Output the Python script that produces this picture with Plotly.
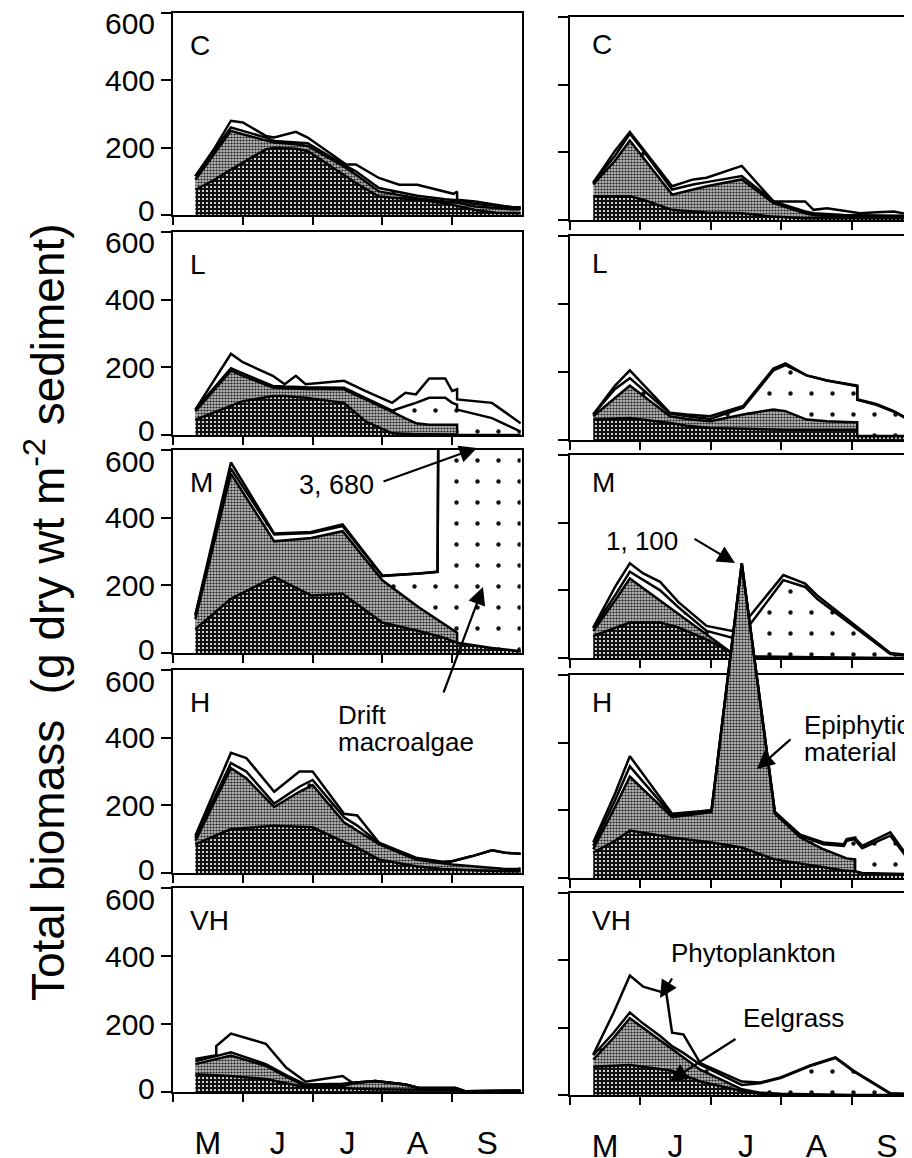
import plotly.graph_objects as go

# page body keeps its default 8 px margin, so the figure is sized to end at the window edge
OFF = 8
W, H = 912 - OFF, 1158 - OFF

# ---------------- data (x = months after 1 May; values = cumulative layer tops, g dry wt m-2)
# layer order bottom->top: eelgrass, +epiphytic material, +drift macroalgae, +phytoplankton (total)
month_labels = ['M', 'J', 'J', 'A', 'S']
month_centres = [0.5, 1.5, 2.5, 3.5, 4.5]
month_bounds = [0, 1, 2, 3, 4]
y_ticks = [0, 200, 400, 600]
panel_labels = ['C', 'L', 'M', 'H', 'VH']

# left column
Ca_x = [0.32, 0.60, 0.83, 1.00, 1.33, 1.45, 1.76, 1.93, 2.48, 2.62, 2.95, 3.24, 3.50, 3.90, 4.02, 4.07, 4.07, 4.33, 4.62, 4.86, 4.98]
Ca_eel = [75, 105, 135, 155, 195, 200, 197, 190, 115, 95, 55, 50, 45, 35, 30, 28, 28, 15, 7, 5, 5]
Ca_epi = [105, 185, 250, 240, 220, 215, 210, 205, 140, 120, 70, 60, 50, 40, 38, 37, 37, 25, 20, 17, 17]
Ca_mac = [115, 195, 260, 250, 230, 220, 215, 213, 145, 130, 80, 67, 57, 47, 45, 44, 44, 33, 27, 23, 23]
Ca_tot = [115, 200, 280, 275, 235, 230, 247, 230, 150, 150, 110, 90, 90, 70, 63, 70, 45, 40, 30, 23, 23]

La_x = [0.32, 0.83, 1.00, 1.43, 1.60, 1.76, 1.90, 2.45, 2.76, 3.14, 3.33, 3.48, 3.67, 3.90, 4.00, 4.07, 4.07, 4.57, 4.98]
La_eel = [45, 85, 100, 115, 115, 112, 110, 95, 40, 5, 3, 2, 2, 2, 2, 2, 0, 0, 0]
La_epi = [70, 190, 175, 140, 138, 137, 136, 135, 106, 68, 49, 35, 30, 30, 30, 30, 0, 0, 0]
La_mac = [75, 197, 182, 145, 143, 142, 141, 140, 110, 72, 85, 95, 110, 110, 95, 90, 75, 50, 10]
La_tot = [75, 240, 215, 175, 150, 175, 150, 160, 130, 95, 125, 120, 167, 167, 130, 135, 105, 95, 35]

Ma_x = [0.32, 0.83, 1.45, 1.98, 2.43, 3.00, 3.52, 3.79, 3.88, 4.07, 4.07, 4.57, 4.98]
Ma_eel = [70, 160, 225, 170, 175, 90, 65, 50, 45, 30, 30, 15, 5]
Ma_epi = [100, 530, 330, 340, 360, 215, 135, 99, 86, 60, 30, 15, 5]
Ma_mac = [110, 545, 350, 355, 375, 228, 235, 240, 3680, 3680, 3680, 3680, 3680]
Ma_tot = [113, 563, 353, 358, 380, 228, 235, 240, 3680, 3680, 3680, 3680, 3680]

Ha_x = [0.32, 0.83, 1.05, 1.45, 1.81, 2.00, 2.45, 2.64, 2.95, 3.48, 3.86, 4.00, 4.29, 4.57, 4.76, 4.98]
Ha_eel = [85, 130, 133, 140, 137, 135, 92, 75, 40, 20, 12, 10, 8, 6, 5, 5]
Ha_epi = [95, 310, 280, 195, 240, 260, 150, 125, 85, 40, 30, 25, 20, 15, 12, 12]
Ha_mac = [103, 325, 300, 205, 255, 275, 165, 140, 88, 42, 32, 35, 50, 67, 60, 57]
Ha_tot = [110, 355, 340, 240, 300, 300, 175, 170, 90, 45, 33, 35, 50, 67, 60, 57]

VHa_x = [0.32, 0.62, 0.62, 0.83, 1.33, 1.62, 1.90, 2.43, 2.57, 2.90, 3.33, 3.52, 4.05, 4.19, 4.98]
VHa_eel = [52, 50, 50, 47, 38, 25, 14, 12, 10, 8, 7, 6, 6, 2, 3]
VHa_epi = [82, 97, 97, 107, 77, 45, 17, 17, 25, 32, 22, 12, 12, 2, 4]
VHa_mac = [90, 105, 105, 117, 82, 50, 22, 24, 27, 32, 22, 12, 12, 2, 4]
VHa_tot = [97, 108, 135, 172, 142, 72, 30, 47, 27, 32, 22, 12, 12, 2, 4]

# right column
Cb_x = [0.33, 0.64, 0.85, 1.04, 1.45, 1.75, 1.94, 2.44, 2.89, 3.34, 3.46, 3.65, 3.89, 4.12, 4.36, 4.60, 4.86, 5.00]
Cb_eel = [70, 70, 70, 60, 30, 25, 22, 20, 10, 5, 5, 5, 5, 5, 5, 5, 5, 5]
Cb_epi = [105, 175, 235, 185, 75, 90, 100, 120, 50, 20, 15, 12, 10, 10, 10, 10, 10, 10]
Cb_mac = [110, 190, 255, 205, 90, 105, 112, 130, 55, 25, 20, 17, 15, 14, 13, 12, 12, 12]
Cb_tot = [110, 205, 260, 210, 100, 120, 125, 160, 55, 55, 30, 35, 27, 20, 23, 25, 15, 15]

Lb_x = [0.33, 0.64, 0.85, 1.42, 1.66, 1.99, 2.46, 2.89, 3.06, 3.36, 3.65, 4.03, 4.08, 4.08, 4.36, 4.60, 4.86, 5.00]
Lb_eel = [60, 62, 65, 50, 42, 35, 32, 30, 30, 30, 30, 30, 30, 12, 12, 12, 12, 12]
Lb_epi = [70, 125, 160, 70, 62, 55, 75, 90, 85, 60, 55, 52, 52, 12, 12, 12, 12, 12]
Lb_mac = [75, 150, 182, 78, 70, 62, 95, 205, 220, 190, 175, 160, 158, 118, 103, 83, 53, 45]
Lb_tot = [75, 160, 205, 80, 75, 70, 100, 210, 225, 190, 175, 160, 160, 120, 105, 85, 55, 47]

Mb_x = [0.33, 0.64, 0.85, 1.04, 1.28, 1.54, 1.94, 2.30, 2.56, 3.03, 3.34, 3.51, 4.55, 4.86, 5.00]
Mb_eel = [65, 90, 105, 105, 105, 90, 55, 15, 5, 3, 2, 2, 0, 0, 0]
Mb_epi = [80, 170, 235, 206, 170, 130, 70, 15, 5, 3, 2, 2, 0, 0, 0]
Mb_mac = [88, 185, 255, 230, 200, 150, 80, 60, 100, 230, 210, 175, 12, 5, 5]
Mb_tot = [90, 210, 280, 250, 225, 165, 95, 80, 125, 245, 220, 185, 15, 7, 7]

Hb_x = [0.33, 0.64, 0.85, 1.45, 2.01, 2.44, 2.91, 3.27, 3.60, 3.89, 3.93, 4.05, 4.05, 4.15, 4.55, 4.86, 5.00]
Hb_eel = [75, 110, 140, 120, 105, 90, 55, 42, 32, 22, 21, 20, 20, 15, 12, 10, 10]
Hb_epi = [85, 210, 300, 180, 195, 930, 190, 120, 85, 60, 58, 55, 20, 15, 12, 10, 10]
Hb_mac = [95, 230, 330, 185, 200, 930, 195, 125, 100, 95, 110, 115, 112, 88, 125, 40, 18]
Hb_tot = [105, 250, 360, 190, 200, 930, 195, 128, 105, 100, 115, 120, 118, 95, 135, 45, 20]

VHb_x = [0.33, 0.62, 0.85, 1.04, 1.28, 1.37, 1.45, 1.61, 1.85, 2.44, 2.70, 2.99, 3.41, 3.77, 4.03, 4.55, 4.86, 5.00]
VHb_eel = [84, 87, 89, 84, 78, 76, 72, 60, 40, 12, 4, 2, 1, 1, 0, 0, 0, 0]
VHb_epi = [105, 170, 228, 199, 161, 147, 135, 110, 75, 17, 7, 4, 2, 1, 0, 0, 0, 0]
VHb_mac = [118, 185, 245, 212, 175, 160, 145, 125, 90, 30, 35, 50, 86, 110, 70, 4, 2, 2]
VHb_tot = [120, 245, 355, 322, 307, 300, 185, 180, 95, 40, 37, 52, 88, 112, 72, 5, 3, 3]

left_panels = [
    (Ca_x, Ca_eel, Ca_epi, Ca_mac, Ca_tot),
    (La_x, La_eel, La_epi, La_mac, La_tot),
    (Ma_x, Ma_eel, Ma_epi, Ma_mac, Ma_tot),
    (Ha_x, Ha_eel, Ha_epi, Ha_mac, Ha_tot),
    (VHa_x, VHa_eel, VHa_epi, VHa_mac, VHa_tot),
]
right_panels = [
    (Cb_x, Cb_eel, Cb_epi, Cb_mac, Cb_tot),
    (Lb_x, Lb_eel, Lb_epi, Lb_mac, Lb_tot),
    (Mb_x, Mb_eel, Mb_epi, Mb_mac, Mb_tot),
    (Hb_x, Hb_eel, Hb_epi, Hb_mac, Hb_tot),
    (VHb_x, VHb_eel, VHb_epi, VHb_mac, VHb_tot),
]

# ---------------- layout geometry (window pixels)
FONT = "Liberation Sans, Arial, Helvetica, sans-serif"
left_cols = (173, 522)
right_cols = (570, 912)
left_rows = [(13, 215), (232, 435), (450, 653), (670, 873), (888, 1092)]
right_rows = [(17, 220), (236, 440), (455, 658), (675, 878), (893, 1095)]
right_xmax = (912 - 570) / 70.4
LW = 2.5


def fx(p):
    return (p - OFF) / W


def fy(p):
    return 1 - (p - OFF) / H


fig = go.Figure()
layout = dict(
    template='none',
    width=W, height=H, margin=dict(l=0, r=0, t=0, b=0, autoexpand=False),
    paper_bgcolor='white', plot_bgcolor='rgba(0,0,0,0)', showlegend=False,
    font=dict(family=FONT, color='black'),
)

styles = {
    'eel': dict(fillpattern=dict(shape='.', bgcolor='#111111', fgcolor='#ffffff', size=4, solidity=0.22)),
    'epi': dict(fillpattern=dict(shape='.', bgcolor='#b8b8b8', fgcolor='#1e1e1e', size=3, solidity=0.42)),
    'mac': dict(fillpattern=dict(shape='.', bgcolor='#ffffff', fgcolor='#111111', size=21, solidity=0.035)),
    'tot': dict(fillcolor='#ffffff'),
}


def add_panel(data, xa, ya):
    x, eel, epi, mac, tot = data
    for key, vals in (('eel', eel), ('epi', epi), ('mac', mac), ('tot', tot)):
        fig.add_trace(go.Scatter(
            x=x, y=vals, mode='lines', xaxis=xa, yaxis=ya,
            line=dict(color='black', width=LW),
            fill='tozeroy' if key == 'eel' else 'tonexty',
            hoverinfo='skip', **styles[key]))


for col in range(2):
    for r in range(5):
        n = col * 5 + r + 1
        cols = left_cols if col == 0 else right_cols
        rows = left_rows if col == 0 else right_rows
        bottom = (r == 4)
        xk = 'xaxis' if n == 1 else f'xaxis{n}'
        yk = 'yaxis' if n == 1 else f'yaxis{n}'
        layout[xk] = dict(
            domain=[max(0, fx(cols[0])), min(1, fx(cols[1]))],
            range=[0, 5] if col == 0 else [0, right_xmax],
            anchor=f'y{n}' if n > 1 else 'y', automargin=False,
            showline=True, linecolor='black', linewidth=1.5, mirror=True,
            showgrid=False, zeroline=False, fixedrange=True,
            tickmode='array', tickvals=month_centres, ticktext=month_labels,
            ticks='', showticklabels=bottom, ticklabelstandoff=22,
            tickfont=dict(size=32, family=FONT),
            minor=dict(tickmode='array', tickvals=month_bounds, ticks='outside',
                       ticklen=8, tickwidth=1.5, tickcolor='black', showgrid=False),
        )
        layout[yk] = dict(
            domain=[fy(rows[r][1]), fy(rows[r][0])],
            range=[0, 600], anchor=f'x{n}' if n > 1 else 'x', automargin=False,
            showline=True, linecolor='black', linewidth=1.5, mirror=(col == 0),
            showgrid=False, zeroline=False, fixedrange=True,
            tickmode='array', tickvals=y_ticks, ticks='outside', ticklen=10,
            tickwidth=1.5, tickcolor='black', showticklabels=False,
        )

# tall overlay axis so the H (right) spike can rise into the M panel above it
h_top, h_bot = right_rows[3]
m_top = right_rows[2][0]
layout['yaxis11'] = dict(domain=[fy(h_bot), fy(m_top)],
                         range=[0, (h_bot - m_top) * 600 / (h_bot - h_top)],
                         anchor='x9', visible=False, fixedrange=True, automargin=False)

for r in range(5):
    n = r + 1
    add_panel(left_panels[r], 'x' if n == 1 else f'x{n}', 'y' if n == 1 else f'y{n}')
for r in range(5):
    n = r + 6
    if n == 9:
        fig.add_trace(go.Scatter(x=[], y=[], xaxis='x9', yaxis='y9', hoverinfo='skip'))
        add_panel(right_panels[r], 'x9', 'y11')
    else:
        add_panel(right_panels[r], f'x{n}', f'y{n}')

annotations = []
# y tick labels of the left column (end labels nudged inward as in the original)
for r in range(5):
    yref = 'y' if r == 0 else f'y{r + 1}'
    for v in y_ticks:
        shift = -11 if v == y_ticks[-1] else (4 if v == y_ticks[0] else 0)
        annotations.append(dict(text=str(v), xref='paper', yref=yref, x=fx(157), y=v,
                                xanchor='right', yanchor='middle', yshift=shift,
                                showarrow=False, font=dict(size=30, family=FONT)))

# panel letters
for r in range(5):
    annotations.append(dict(text=panel_labels[r], xref='paper', yref='paper',
                            x=fx(188), y=fy(left_rows[r][0] + 15), xanchor='left', yanchor='top',
                            showarrow=False, font=dict(size=28, family=FONT)))
    annotations.append(dict(text=panel_labels[r], xref='paper', yref='paper',
                            x=fx(590), y=fy(right_rows[r][0] + 10), xanchor='left', yanchor='top',
                            showarrow=False, font=dict(size=28, family=FONT)))

# y-axis title
annotations.append(dict(text='Total biomass\u00a0 (g dry wt m<sup>-2</sup> sediment)',
                        xref='paper', yref='paper', x=fx(45), y=fy(612), textangle=-90,
                        xanchor='center', yanchor='middle', showarrow=False,
                        font=dict(size=46, family=FONT)))


def label(text, xl, yc, size=26):
    annotations.append(dict(text=text, xref='paper', yref='paper', x=fx(xl), y=fy(yc),
                            xanchor='left', yanchor='middle', showarrow=False,
                            font=dict(size=size, family=FONT)))


def arrow(tail, head):
    annotations.append(dict(text='', xref='paper', yref='paper', x=fx(head[0]), y=fy(head[1]),
                            ax=tail[0] - head[0], ay=tail[1] - head[1], axref='pixel', ayref='pixel',
                            showarrow=True, arrowhead=2, arrowsize=1.6, arrowwidth=2.2,
                            arrowcolor='black', standoff=0, startstandoff=0))


label('3, 680', 297, 485, 27)
arrow((382, 482), (477, 448))
label('Drift', 336, 715)
label('macroalgae', 336, 742)
arrow((443, 694), (483, 587))
label('1, 100', 604, 541)
arrow((693, 538), (735, 563))
label('Epiphytic', 802, 725)
label('material', 802, 752)
arrow((792, 738), (757, 769))
label('Phytoplankton', 669, 953)
arrow((673, 977), (660, 998))
label('Eelgrass', 741, 1018)
arrow((737, 1038), (670, 1081))

layout['annotations'] = annotations
fig.update_layout(**layout)
fig.write_html('out.html')
